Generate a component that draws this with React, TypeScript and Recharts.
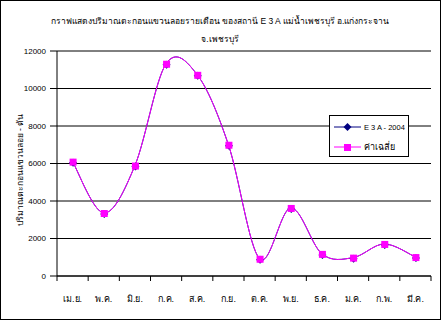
import React from 'react'
import {
  CartesianGrid,
  Legend,
  Line,
  LineChart,
  XAxis,
  YAxis,
} from 'recharts'

const months = ['เม.ย.', 'พ.ค.', 'มิ.ย.', 'ก.ค.', 'ส.ค.', 'ก.ย.', 'ต.ค.', 'พ.ย.', 'ธ.ค.', 'ม.ค.', 'ก.พ.', 'มี.ค.']
const e3a2004 = [6100, 3360, 5890, 11320, 10730, 7000, 920, 3630, 1180, 980, 1710, 1010]
const average = [6100, 3360, 5890, 11320, 10730, 7000, 920, 3630, 1180, 980, 1710, 1010]
const yTicks = [0, 2000, 4000, 6000, 8000, 10000, 12000]

const titleLine1 = 'กราฟแสดงปริมาณตะกอนแขวนลอยรายเดือน ของสถานี  E 3 A  แม่น้ำเพชรบุรี  อ.แก่งกระจาน'
const titleLine2 = 'จ.เพชรบุรี'
const yLabel = 'ปริมาณตะกอนแขวนลอย - ตัน'

const data = months.map((m, i) => ({ month: m, e3a: e3a2004[i], avg: average[i] }))

const W = 446
const H = 320
const PLOT_LEFT = 57
const PLOT_RIGHT = 431
const BAND = (PLOT_RIGHT - PLOT_LEFT) / months.length
const FONT = '"Liberation Sans", sans-serif'

// Excel-style smoothed line (Catmull-Rom through every point)
function smoothCurve(context: any) {
  let pts: [number, number][] = []
  return {
    areaStart() {},
    areaEnd() {},
    lineStart() {
      pts = []
    },
    point(x: number, y: number) {
      pts.push([+x, +y])
    },
    lineEnd() {
      if (!pts.length) return
      context.moveTo(pts[0][0], pts[0][1])
      for (let i = 0; i < pts.length - 1; i++) {
        const p0 = pts[Math.max(i - 1, 0)]
        const p1 = pts[i]
        const p2 = pts[i + 1]
        const p3 = pts[Math.min(i + 2, pts.length - 1)]
        const t = 1 / 6
        context.bezierCurveTo(
          p1[0] + (p2[0] - p0[0]) * t,
          p1[1] + (p2[1] - p0[1]) * t,
          p2[0] - (p3[0] - p1[0]) * t,
          p2[1] - (p3[1] - p1[1]) * t,
          p2[0],
          p2[1]
        )
      }
    },
  }
}

const SquareDot = (props: any) => {
  const { cx, cy } = props
  if (cx == null || cy == null) return null
  return <rect x={cx - 3} y={cy - 3} width={7} height={7} fill="#FF00FF" />
}

const DiamondDot = (props: any) => {
  const { cx, cy } = props
  if (cx == null || cy == null) return null
  const x = cx + 0.5
  const y = cy + 1
  return <path d={`M${x},${y - 4}L${x + 4},${y}L${x},${y + 4}L${x - 4},${y}Z`} fill="#000080" />
}

const MonthTick = (props: any) => {
  const { x, y, payload, index } = props
  return (
    <g>
      <line x1={x - BAND / 2} x2={x - BAND / 2} y1={y} y2={y + 5} stroke="#000" />
      {index === months.length - 1 && (
        <line x1={x + BAND / 2} x2={x + BAND / 2} y1={y} y2={y + 5} stroke="#000" />
      )}
      <text x={x} y={y + 26} textAnchor="middle" fontSize={9} fontFamily={FONT} fill="#000">
        {payload.value}
      </text>
    </g>
  )
}

const LegendBox = () => (
  <div
    style={{
      width: 78,
      height: 40,
      border: '1px solid #000',
      background: '#fff',
      boxSizing: 'content-box',
    }}
  >
    <svg width={78} height={40} style={{ display: 'block' }}>
      <line x1={4} x2={31} y1={11} y2={11} stroke="#000080" />
      <path d="M17.5,7L21.5,11L17.5,15L13.5,11Z" fill="#000080" />
      <text x={34} y={14} fontSize={7.5} fontFamily={FONT} fill="#000">E 3 A - 2004</text>
      <line x1={4} x2={31} y1={31} y2={31} stroke="#FF00FF" />
      <rect x={14} y={28} width={7} height={7} fill="#FF00FF" />
      <text x={34} y={34} fontSize={9} fontFamily={FONT} fill="#000">ค่าเฉลี่ย</text>
    </svg>
  </div>
)

export default function App() {
  return (
    <div style={{ position: 'absolute', left: 0, top: 0, width: W, height: H, background: '#fff' }}>
      <div
        style={{
          position: 'absolute',
          left: 0,
          top: 0,
          width: 441,
          height: 320,
          border: '1px solid #000',
          boxSizing: 'border-box',
        }}
      />
      <div
        style={{
          position: 'absolute',
          left: 0,
          top: 12,
          width: 440,
          textAlign: 'center',
          fontFamily: FONT,
          fontSize: 8.5,
          lineHeight: '18px',
        }}
      >
        <div>{titleLine1}</div>
        <div>{titleLine2}</div>
      </div>
      <div
        style={{
          position: 'absolute',
          left: 20,
          top: 170,
          transform: 'translate(-50%, -50%) rotate(-90deg)',
          whiteSpace: 'nowrap',
          fontFamily: FONT,
          fontSize: 8.5,
        }}
      >
        {yLabel}
      </div>
      <div style={{ position: 'absolute', left: 0, top: 0 }}>
        <LineChart width={W} height={H} data={data} margin={{ top: 51, right: 15, left: 12, bottom: 14 }}>
          <CartesianGrid vertical={false} stroke="#000" strokeWidth={1} />
          <XAxis
            dataKey="month"
            interval={0}
            padding={{ left: BAND / 2, right: BAND / 2 }}
            axisLine={{ stroke: '#000' }}
            tickLine={false}
            tickSize={0}
            tickMargin={0}
            height={30}
            tick={<MonthTick />}
          />
          <XAxis
            xAxisId="top"
            orientation="top"
            dataKey="month"
            padding={{ left: BAND / 2, right: BAND / 2 }}
            height={0}
            tick={false}
            tickLine={false}
            axisLine={{ stroke: '#808080' }}
          />
          <YAxis
            domain={[0, 12000]}
            ticks={yTicks}
            interval={0}
            width={45}
            tickSize={7}
            tickMargin={4}
            axisLine={{ stroke: '#000' }}
            tickLine={{ stroke: '#000' }}
            tick={{ fontSize: 8, fill: '#000', fontFamily: FONT }}
          />
          <YAxis yAxisId="right" orientation="right" width={0} tick={false} tickLine={false} axisLine={{ stroke: '#808080' }} />
          <Legend
            layout="vertical"
            align="center"
            verticalAlign="middle"
            wrapperStyle={{ left: 329, top: 115, width: 80 }}
            content={<LegendBox />}
          />
          <Line
            dataKey="e3a"
            name="E 3 A - 2004"
            type={smoothCurve as any}
            stroke="#000080"
            strokeWidth={1}
            dot={<DiamondDot />}
            activeDot={false}
            isAnimationActive={false}
          />
          <Line
            dataKey="avg"
            name="ค่าเฉลี่ย"
            type={smoothCurve as any}
            stroke="#FF00FF"
            strokeWidth={1}
            dot={<SquareDot />}
            activeDot={false}
            isAnimationActive={false}
          />
        </LineChart>
      </div>
    </div>
  )
}
